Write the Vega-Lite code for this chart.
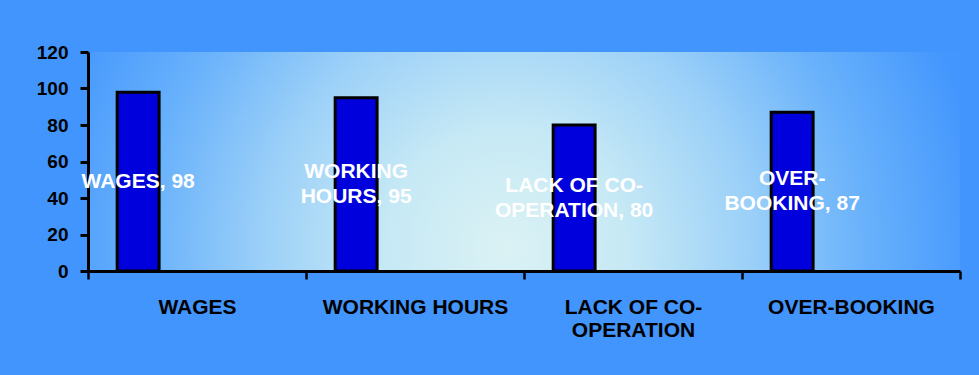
{
  "$schema": "https://vega.github.io/schema/vega-lite/v6.json",
  "width": 872,
  "height": 219,
  "autosize": {"type": "none"},
  "padding": {"left": 88, "top": 52, "right": 19, "bottom": 104},
  "background": "#4295fd",
  "config": {
    "font": "Liberation Sans",
    "view": {
      "stroke": null,
      "fill": {
        "gradient": "radial",
        "x1": 0.48, "y1": 0.6, "r1": 0,
        "x2": 0.48, "y2": 0.6, "r2": 0.55,
        "stops": [
          {"offset": 0, "color": "#dbf2f4"},
          {"offset": 0.25, "color": "#c6e9f5"},
          {"offset": 0.5, "color": "#9dd1f8"},
          {"offset": 0.75, "color": "#68b1fb"},
          {"offset": 1, "color": "#4396fd"}
        ]
      }
    }
  },
  "data": {
    "values": [
      {"category": "WAGES", "value": 98, "series": "s1", "dlabel": "WAGES, 98"},
      {"category": "WORKING HOURS", "value": 95, "series": "s1", "dlabel": "WORKING\nHOURS, 95"},
      {"category": "LACK OF CO-OPERATION", "value": 80, "series": "s1", "dlabel": "LACK OF CO-\nOPERATION, 80"},
      {"category": "OVER-BOOKING", "value": 87, "series": "s1", "dlabel": "OVER-\nBOOKING, 87"}
    ]
  },
  "encoding": {
    "x": {
      "field": "category",
      "type": "nominal",
      "sort": null,
      "scale": {"paddingInner": 0, "paddingOuter": 0},
      "axis": {
        "title": null,
        "labelAngle": 0,
        "labelFontSize": 21,
        "labelFontWeight": "bold",
        "labelColor": "#000000",
        "labelPadding": 17,
        "labelLineHeight": 23,
        "labelLimit": 400,
        "labelExpr": "datum.label == 'LACK OF CO-OPERATION' ? ['LACK OF CO-', 'OPERATION'] : datum.label",
        "domainColor": "#000000",
        "domainWidth": 3,
        "tickColor": "#000000",
        "tickWidth": 2.5,
        "tickSize": 8,
        "tickBand": "extent",
        "grid": false
      }
    },
    "xOffset": {
      "field": "series",
      "type": "nominal",
      "scale": {"domain": ["s1", "s2", "s3", "s4"], "paddingInner": 0, "paddingOuter": 0.6, "align": 0.58}
    }
  },
  "layer": [
    {
      "mark": {"type": "bar", "fill": "#0000dd", "stroke": "#000000", "strokeWidth": 3},
      "encoding": {
        "y": {
          "field": "value",
          "type": "quantitative",
          "scale": {"domain": [0, 120], "nice": false},
          "axis": {
            "title": null,
            "values": [0, 20, 40, 60, 80, 100, 120],
            "labelFontSize": 19,
            "labelFontWeight": "bold",
            "labelColor": "#000000",
            "labelPadding": 12,
            "domainColor": "#000000",
            "domainWidth": 3,
            "tickColor": "#000000",
            "tickWidth": 3,
            "tickSize": 8,
            "grid": false
          }
        }
      }
    },
    {
      "transform": [{"filter": "indexof(datum.dlabel, '\\n') < 0"}],
      "mark": {"type": "text", "color": "#ffffff", "fontSize": 21, "fontWeight": "bold", "lineBreak": "\n", "lineHeight": 25, "baseline": "middle", "align": "center"},
      "encoding": {
        "y": {"field": "value", "type": "quantitative", "scale": {"domain": [0, 240], "nice": false}, "axis": null},
        "text": {"field": "dlabel"}
      }
    },
    {
      "transform": [{"filter": "indexof(datum.dlabel, '\\n') >= 0"}],
      "mark": {"type": "text", "color": "#ffffff", "fontSize": 21, "fontWeight": "bold", "lineBreak": "\n", "lineHeight": 25, "baseline": "middle", "align": "center", "dy": -12.5},
      "encoding": {
        "y": {"field": "value", "type": "quantitative", "scale": {"domain": [0, 240], "nice": false}, "axis": null},
        "text": {"field": "dlabel"}
      }
    }
  ],
  "resolve": {"scale": {"y": "independent"}}
}
